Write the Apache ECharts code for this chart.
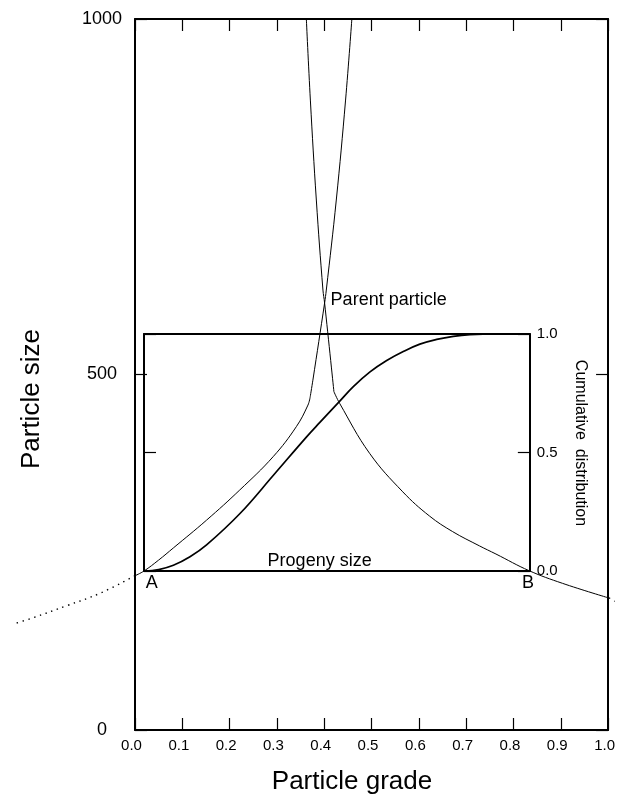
<!DOCTYPE html>
<html>
<head>
<meta charset="utf-8">
<script src="https://cdn.jsdelivr.net/npm/echarts@6/dist/echarts.min.js"></script>
<style>
  html, body { margin: 0; padding: 0; background: #fff; }
  #chart { width: 618px; height: 795px; }
</style>
</head>
<body>
<div id="chart"></div>
<script>
// particle grade (x) / particle size (y)
const leftCurveGrade = [0.0, 0.019, 0.05, 0.081, 0.151, 0.2215, 0.292, 0.341, 0.3656, 0.3703];
const leftCurveSize = [217, 223.6, 239, 256, 295, 337.6, 384.4, 426.6, 457, 468.4];
const leftSteepGrade = [0.3703, 0.376, 0.4008, 0.4044, 0.4255, 0.4451, 0.4584];
const leftSteepSize = [468.4, 492, 600.6, 618.8, 745.4, 886, 1000];
const rightSteepGrade = [0.3622, 0.3707, 0.3833, 0.3973, 0.4008, 0.4205];
const rightSteepSize = [1000, 886, 745.4, 618.8, 600.6, 475.8];
const rightCurveGrade = [0.4205, 0.4325, 0.4958, 0.566, 0.6224, 0.6715, 0.728, 0.763, 0.8333, 0.9036, 1.0];
const rightCurveSize = [475.8, 459.5, 389.2, 335, 301, 279, 259, 247.5, 224, 206.3, 186];
const leftTailGrade = [0.0, -0.0738, -0.144, -0.2145, -0.257];
const leftTailSize = [217, 192.3, 174.8, 158, 149];
const rightTailGrade = [1.0, 1.012];
const rightTailSize = [186, 181];

// cumulative distribution inside the progeny box
const boxGrade = [0.019, 0.833];
const boxSize = [223.6, 557];
const cumGrade = [0.019, 0.05, 0.081, 0.116, 0.151, 0.2215, 0.292, 0.362, 0.390, 0.4325, 0.4606, 0.4958, 0.531, 0.566, 0.601, 0.6365, 0.6715, 0.7068, 0.763, 0.833];
const cumValue = [0, 0.006, 0.024, 0.06, 0.11, 0.2425, 0.404, 0.566, 0.627, 0.718, 0.778, 0.84, 0.888, 0.926, 0.957, 0.977, 0.99, 0.997, 1.0, 1.0];

const notes = ['Parent particle', 'Progeny size', 'A', 'B'];
const noteGrade = [0.4135, 0.3903, 0.0352, 0.8306];
const noteSize = [604.8, 237.7, 206.9, 206.9];
const notePos = ['right', 'inside', 'inside', 'inside'];

const zip = (xs, ys) => xs.map((x, i) => [x, ys[i]]);

const W = 618;
const plot = { left: 135, right: 609, top: 19, bottom: 730 };
const px = g => plot.left + g * (plot.right - plot.left);
const py = s => plot.bottom - s / 1000 * (plot.bottom - plot.top);
const pxToGrade = x => (x - plot.left) / (plot.right - plot.left);

const FONT = "'Liberation Sans', Arial, Helvetica, sans-serif";
const black = '#000';
const frame = { show: true, onZero: false, lineStyle: { color: black, width: 2 } };
const tickIn = { show: true, inside: true, length: 12, lineStyle: { color: black, width: 1.2 } };
const hidden = { show: false };
const dots = { color: black, width: 1.4, type: [1.4, 4.6] };

const chart = echarts.init(document.getElementById('chart'));

const line = (data, opts) => Object.assign({
  type: 'line', data, showSymbol: false, symbol: 'none', silent: true,
  xAxisIndex: 0, yAxisIndex: 0,
  lineStyle: { color: black, width: 1 },
  smooth: 0.4
}, opts);

const frameAxis = (gridIndex, min, max, interval, position, ticks) => ({
  gridIndex, type: 'value', min, max, interval, position,
  axisLine: frame, axisTick: ticks ? tickIn : hidden,
  splitLine: hidden, axisLabel: hidden
});

chart.setOption({
  animation: false,
  textStyle: { fontFamily: FONT, color: black },
  grid: [
    { left: plot.left, top: plot.top, width: plot.right - plot.left, height: plot.bottom - plot.top },
    {
      left: px(boxGrade[0]), top: py(boxSize[1]),
      width: px(boxGrade[1]) - px(boxGrade[0]), height: py(boxSize[0]) - py(boxSize[1])
    },
    // same scale as the main plot, stretched over the page so the tails can leave the frame
    { left: 0, top: plot.top, width: W, height: plot.bottom - plot.top }
  ],
  xAxis: [
    Object.assign(frameAxis(0, 0, 1, 0.1, 'bottom', true), {
      axisLabel: { formatter: v => v.toFixed(1), fontSize: 15, margin: 8, color: black, padding: [0, 7, 0, 0] }
    }),
    frameAxis(0, 0, 1, 0.1, 'top', true),
    frameAxis(1, boxGrade[0], boxGrade[1], null, 'bottom', false),
    frameAxis(1, boxGrade[0], boxGrade[1], null, 'top', false),
    { gridIndex: 2, type: 'value', min: pxToGrade(0), max: pxToGrade(W), show: false }
  ],
  yAxis: [
    Object.assign(frameAxis(0, 0, 1000, 500, 'left', true), {
      axisLabel: { formatter: v => String(v), fontSize: 18, margin: 33, align: 'center', color: black }
    }),
    frameAxis(0, 0, 1000, 500, 'right', true),
    Object.assign(frameAxis(1, 0, 1, 0.5, 'right', true), {
      axisLabel: { formatter: v => v.toFixed(1), fontSize: 15, margin: 7, color: black }
    }),
    frameAxis(1, 0, 1, 0.5, 'left', true),
    { gridIndex: 2, type: 'value', min: 0, max: 1000, show: false }
  ],
  graphic: [
    {
      type: 'text', x: 32, y: 399, rotation: Math.PI / 2,
      style: { text: 'Particle size', font: '26px ' + FONT, fill: black, align: 'center', verticalAlign: 'middle' }
    },
    {
      type: 'text', x: 352, y: 782,
      style: { text: 'Particle grade', font: '26px ' + FONT, fill: black, align: 'center', verticalAlign: 'middle' }
    },
    {
      type: 'text', x: 580, y: 443, rotation: -Math.PI / 2,
      style: { text: 'Cumulative  distribution', font: '16px ' + FONT, fill: black, align: 'center', verticalAlign: 'middle' }
    }
  ],
  series: [
    line(zip(leftCurveGrade, leftCurveSize)),
    line(zip(leftSteepGrade, leftSteepSize)),
    line(zip(rightSteepGrade, rightSteepSize)),
    line(zip(rightCurveGrade, rightCurveSize)),
    line(zip(leftTailGrade, leftTailSize), { xAxisIndex: 4, yAxisIndex: 4, clip: false, lineStyle: dots }),
    line(zip(rightTailGrade, rightTailSize), { xAxisIndex: 4, yAxisIndex: 4, clip: false, lineStyle: dots }),
    line(zip(cumGrade, cumValue), { xAxisIndex: 2, yAxisIndex: 2, lineStyle: { color: black, width: 1.7 } }),
    {
      type: 'scatter', xAxisIndex: 0, yAxisIndex: 0, symbolSize: 0, silent: true, z: 5,
      itemStyle: { opacity: 1 },
      data: notes.map((n, i) => ({
        name: n, value: [noteGrade[i], noteSize[i]],
        label: { position: notePos[i] }
      })),
      label: {
        show: true, formatter: '{b}', fontSize: 18, color: black, opacity: 1,
        textBorderWidth: 0, distance: 0, fontFamily: FONT
      }
    }
  ]
});
</script>
</body>
</html>
